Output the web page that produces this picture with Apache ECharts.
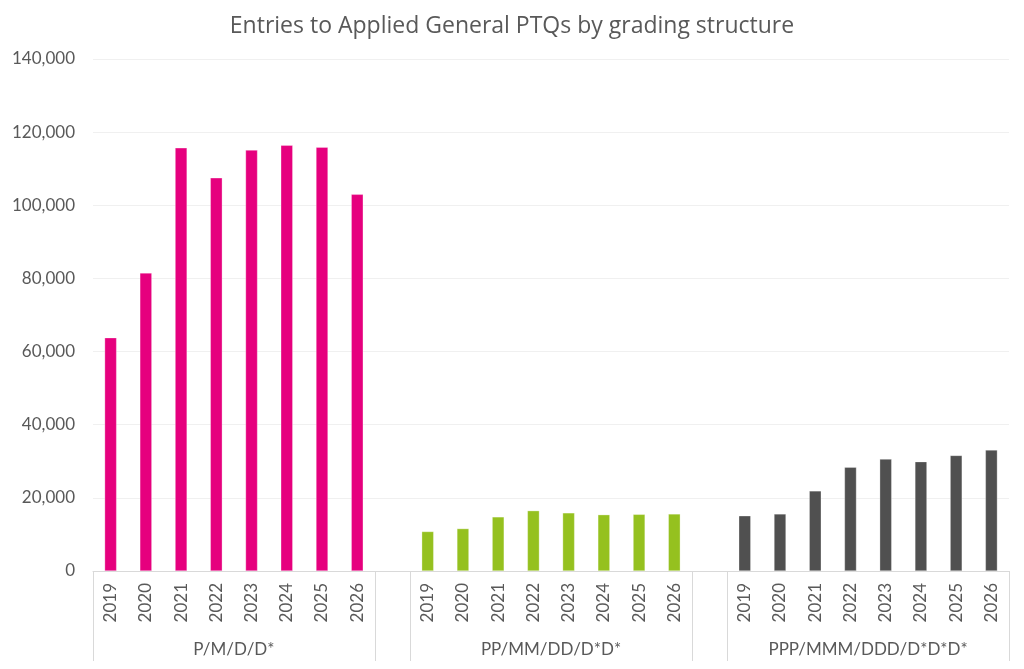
<!DOCTYPE html>
<html>
<head>
<meta charset="utf-8">
<script src="https://cdn.jsdelivr.net/npm/echarts@6/dist/echarts.min.js"></script>
<style>
    html, body { margin: 0; padding: 0; background: #fff; }
    #chart { width: 1024px; height: 669px; }
</style>
</head>
<body>
<div id="chart"></div>
<script>
const years = ['2019', '2020', '2021', '2022', '2023', '2024', '2025', '2026'];
const groups = ['P/M/D/D*', 'PP/MM/DD/D*D*', 'PPP/MMM/DDD/D*D*D*'];

const pmdValues = [63800, 81500, 115700, 107500, 115100, 116400, 115900, 103000];
const ppValues = [10800, 11600, 14800, 16500, 15900, 15400, 15500, 15600];
const pppValues = [15100, 15600, 21900, 28400, 30600, 29900, 31600, 33100];

const yTicks = [0, 20000, 40000, 60000, 80000, 100000, 120000, 140000];
const colors = ['#e6007e', '#95c11f', '#505050'];

// one empty slot between each group, like the Excel chart
const categories = [];
const blank = () => '-';
years.forEach(y => categories.push(y));
categories.push('');
years.forEach(y => categories.push(y));
categories.push('');
years.forEach(y => categories.push(y));

function padSeries(values, groupIndex) {
    const out = [];
    for (let g = 0; g < 3; g++) {
        if (g > 0) out.push(blank());
        years.forEach((y, i) => out.push(g === groupIndex ? values[i] : blank()));
    }
    return out;
}

const n = categories.length;
const groupCentres = groups.map((g, i) => i * 9 + 4);
const separators = [0, 8, 9, 17, 18, 26];

const textColor = '#595959';
const fontFamily = 'Lato, "Open Sans", sans-serif';

let chart = echarts.init(document.getElementById('chart'));

let option = {
    backgroundColor: '#ffffff',
    animation: false,
    textStyle: { fontFamily: fontFamily },
    title: {
        text: 'Entries to Applied General PTQs by grading structure',
        left: 'center',
        top: 10,
        textStyle: {
            color: textColor,
            fontSize: 23,
            fontWeight: 'normal',
            fontFamily: '"Open Sans", Lato, sans-serif'
        }
    },
    grid: {
        left: 93,
        right: 15,
        top: 59,
        bottom: 98,
        containLabel: false
    },
    xAxis: [
        {
            type: 'category',
            data: categories,
            axisLine: { show: true, lineStyle: { color: '#d9d9d9', width: 1 } },
            axisTick: { show: false },
            axisLabel: {
                rotate: 90,
                interval: 0,
                margin: 12,
                color: textColor,
                fontSize: 17,
                fontFamily: fontFamily
            },
            splitLine: { show: false }
        },
        {
            type: 'value',
            position: 'bottom',
            min: 0,
            max: n,
            axisLine: { show: false },
            axisTick: {
                show: true,
                inside: false,
                length: 90,
                customValues: separators,
                lineStyle: { color: '#d9d9d9', width: 1 }
            },
            axisLabel: {
                show: true,
                customValues: groupCentres,
                margin: 70,
                color: textColor,
                fontSize: 17,
                fontFamily: fontFamily,
                formatter: (v) => groups[groupCentres.indexOf(v)] || ''
            },
            splitLine: { show: false }
        }
    ],
    yAxis: {
        type: 'value',
        min: 0,
        max: 140000,
        interval: 20000,
        axisLine: { show: false },
        axisTick: { show: false },
        axisLabel: {
            color: textColor,
            fontSize: 17,
            margin: 18,
            fontFamily: fontFamily,
            formatter: (v) => yTicks.includes(v) ? v.toLocaleString('en-GB') : ''
        },
        splitLine: { lineStyle: { color: '#f0f0f0', width: 1 } }
    },
    series: [pmdValues, ppValues, pppValues].map((vals, i) => ({
        name: groups[i],
        type: 'bar',
        xAxisIndex: 0,
        stack: 'all',
        barWidth: 12,
        data: padSeries(vals, i),
        itemStyle: {
            color: colors[i],
            borderColor: 'rgba(255,255,255,0.6)',
            borderWidth: 0.5
        }
    }))
};

chart.setOption(option);

window.addEventListener('resize', () => {
    chart.resize();
});
</script>
</body>
</html>
